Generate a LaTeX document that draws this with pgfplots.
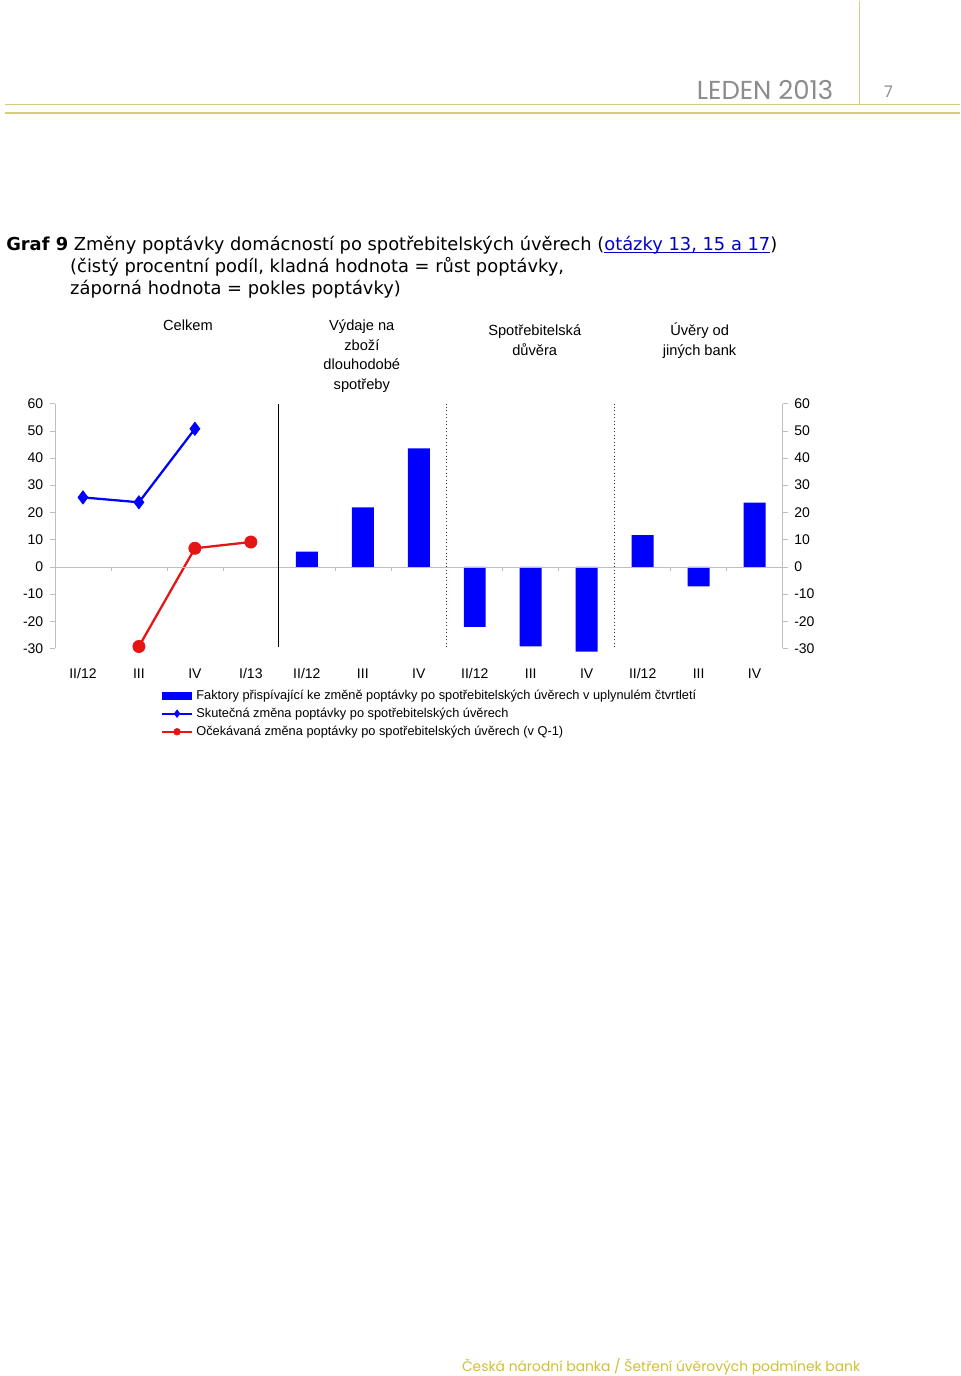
\documentclass[border=0pt]{standalone}
\usepackage{pgfplots}
\pgfplotsset{compat=1.18}
\usepackage{fontspec}
\setmainfont{Liberation Sans}
\newfontfamily\titlefont{DejaVu Sans}
\newfontfamily\gothic{Poppins}
\definecolor{hdr}{RGB}{214,202,125}
\definecolor{ftr}{RGB}{208,192,50}
\definecolor{hgray}{RGB}{140,140,140}
\definecolor{pblue}{RGB}{0,0,255}
\definecolor{pred}{RGB}{230,20,20}
\definecolor{lnk}{RGB}{0,0,200}
\definecolor{axgray}{RGB}{190,190,190}
\newcommand\lnkul[1]{\underline{\smash{#1}}}
\pgfplotsset{
  mylegline/.style={legend image code/.code={\draw[mark repeat=2,mark phase=2,##1] plot coordinates {(0pt,0pt)(11.5pt,0pt)(23pt,0pt)};}},
  mylegbar/.style={legend image code/.code={\fill[pblue] (0pt,-3pt) rectangle (23pt,3pt);}},
}
\begin{document}
\begin{tikzpicture}
\begin{scope}[x=0.75pt,y=0.75pt]
\fill[white] (0,0) rectangle (960,-1376);
% header
\draw[hdr, line width=1.1pt] (860,0) -- (860,-104);
\draw[hdr, line width=1.2pt] (5,-104) -- (960,-104);
\draw[hdr, line width=1.5pt] (5,-112) -- (960,-112);
\node[anchor=base east, inner sep=0pt, text=hgray, font=\gothic\fontsize{19.5}{22}\selectfont] at (834,-99) {LEDEN 2013};
\node[anchor=base, inner sep=0pt, text=hgray, font=\gothic\fontsize{12}{14}\selectfont] at (889,-97) {7};
% title
\node[anchor=base west, inner sep=0pt, font=\titlefont\fontsize{13.4}{16}\selectfont] at (6,-250) {\textbf{Graf 9} Změny poptávky domácností po spotřebitelských úvěrech (\textcolor{lnk}{\lnkul{otázky 13, 15 a 17}})};
\node[anchor=base west, inner sep=0pt, font=\titlefont\fontsize{13.4}{16}\selectfont] at (70,-272) {(čistý procentní podíl, kladná hodnota = růst poptávky,};
\node[anchor=base west, inner sep=0pt, font=\titlefont\fontsize{13.4}{16}\selectfont] at (70,-294) {záporná hodnota = pokles poptávky)};
% group titles
\begin{scope}[every node/.style={anchor=base, inner sep=0pt, font=\fontsize{11}{13}\selectfont}]
\node at (188,-330) {Celkem};
\node at (362,-330) {Výdaje na};
\node at (362,-350) {zboží};
\node at (362,-369) {dlouhodobé};
\node at (362,-389) {spotřeby};
\node at (535,-335) {Spotřebitelská};
\node at (535,-355) {důvěra};
\node at (700,-335) {Úvěry od};
\node at (700,-355) {jiných bank};
\end{scope}
% footer
\node[anchor=base west, inner sep=0pt, text=ftr, font=\gothic\fontsize{10.4}{13}\selectfont] at (462,-1371) {Česká národní banka / Šetření úvěrových podmínek bank};
\end{scope}
% main axis
\begin{axis}[
  at={(41.25pt,-486pt)}, anchor=south west,
  scale only axis, width=546pt, height=183.75pt,
  xmin=-0.5, xmax=12.5, ymin=-30, ymax=60,
  clip=false,
  axis x line*=bottom, axis y line*=left,
  x axis line style={draw=none},
  y axis line style={draw=axgray},
  xtick={0,...,12},
  xticklabels={II/12,III,IV,I/13,II/12,III,IV,II/12,III,IV,II/12,III,IV},
  major x tick style={draw=none},
  xticklabel style={yshift=-8pt},
  ytick={-30,-20,...,60},
  tick align=outside,
  major tick length=3.75pt,
  major y tick style={draw=axgray},
  yticklabel style={xshift=-1.5pt},
  /pgf/number format/assume math mode=true,
  tick label style={font=\fontsize{10.5}{12}\selectfont},
  legend style={at={(0.145,-0.163)}, anchor=north west, draw=none, fill=none,
    inner sep=0pt, row sep=3pt, nodes={inner ysep=1pt, inner xsep=2.2pt},
    font=\fontsize{9.6}{11}\selectfont},
  legend cell align=left,
]
\addplot[ybar, bar width=16.5pt, fill=pblue, draw=none, mylegbar]
  coordinates {(4,5.6)(5,21.8)(6,43.5)(7,-22.1)(8,-29.3)(9,-31.2)(10,11.6)(11,-7.2)(12,23.6)};
\addlegendentry{Faktory přispívající ke změně poptávky po spotřebitelských úvěrech v uplynulém čtvrtletí}
\addplot[pblue, line width=1.7pt, mark=diamond*, mark size=5pt, mark options={fill=pblue, line width=0.5pt},
  mylegline, legend image post style={line width=1.5pt, mark size=2.8pt}]
  coordinates {(0,25.5)(1,23.7)(2,50.7)};
\addlegendentry{Skutečná změna poptávky po spotřebitelských úvěrech}
\addplot[pred, line width=1.7pt, mark=*, mark size=4.6pt, mark options={fill=pred, line width=0.5pt},
  mylegline, legend image post style={line width=1.5pt, mark size=2.5pt}]
  coordinates {(1,-29.3)(2,6.8)(3,9.1)};
\addlegendentry{Očekávaná změna poptávky po spotřebitelských úvěrech (v Q-1)}
\draw[axgray] (axis cs:-0.5,0) -- (axis cs:12.5,0);
\pgfplotsinvokeforeach{0.5,1.5,2.5,4.5,5.5,7.5,8.5,10.5,11.5}{
  \draw[axgray] (axis cs:#1,0) -- ++(0pt,-3pt);
}
\draw[black, line width=0.9pt] (axis cs:3.5,60) -- (axis cs:3.5,-29.5);
\draw[black!80, line width=0.6pt, dotted] (axis cs:6.5,60) -- (axis cs:6.5,-29.5);
\draw[black!80, line width=0.6pt, dotted] (axis cs:9.5,60) -- (axis cs:9.5,-29.5);
\end{axis}
% right axis
\begin{axis}[
  at={(41.25pt,-486pt)}, anchor=south west,
  scale only axis, width=546pt, height=183.75pt,
  xmin=-0.5, xmax=12.5, ymin=-30, ymax=60,
  axis x line=none, axis y line*=right,
  y axis line style={draw=axgray},
  xtick=\empty,
  ytick={-30,-20,...,60},
  tick align=outside,
  major tick length=3.75pt,
  major y tick style={draw=axgray},
  yticklabel style={xshift=1.5pt},
  /pgf/number format/assume math mode=true,
  tick label style={font=\fontsize{10.5}{12}\selectfont},
]
\addplot[draw=none] coordinates {(0,0)};
\end{axis}
\end{tikzpicture}
\end{document}
